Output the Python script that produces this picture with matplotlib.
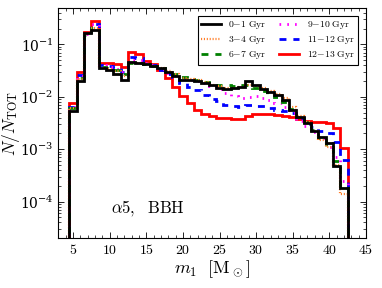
import numpy as np
import matplotlib
matplotlib.use("Agg")
import matplotlib.pyplot as plt
from matplotlib.ticker import FuncFormatter, MultipleLocator, LogLocator

plt.rcParams['mathtext.fontset'] = 'cm'
plt.rcParams['font.family'] = 'serif'
plt.rcParams['font.serif'] = ['DejaVu Serif']

# bin edges of the m1 histogram (1 Msun wide, centred on integers 5..42)
edges = np.arange(4.5, 43.0, 1.0)

# N/N_TOT per bin (bins 5 .. 42)
age_0_1 = [5.3e-3, 0.020, 0.167, 0.19, 0.035, 0.032, 0.027, 0.021, 0.046, 0.045,
           0.043, 0.039, 0.035, 0.030, 0.025, 0.021, 0.021, 0.020, 0.0185, 0.0165,
           0.0149, 0.014, 0.0149, 0.0155, 0.020, 0.0165, 0.0138, 0.0123, 0.011, 0.0085,
           0.0055, 0.0042, 0.0031, 0.0022, 0.0017, 0.0013, 4.8e-4, 1.8e-4]
age_3_4 = [6.0e-3, 0.022, 0.155, 0.21, 0.036, 0.034, 0.031, 0.025, 0.045, 0.045,
           0.043, 0.039, 0.035, 0.031, 0.027, 0.023, 0.022, 0.021, 0.019, 0.017,
           0.016, 0.015, 0.015, 0.0155, 0.0165, 0.016, 0.0145, 0.013, 0.0115, 0.0095,
           0.0065, 0.0043, 0.0033, 0.0022, 0.0015, 0.0011, 5.0e-4, 1.4e-4]
age_6_7 = [6.0e-3, 0.023, 0.15, 0.21, 0.037, 0.035, 0.032, 0.027, 0.044, 0.045,
           0.043, 0.039, 0.035, 0.031, 0.027, 0.024, 0.022, 0.021, 0.019, 0.018,
           0.017, 0.0165, 0.016, 0.017, 0.017, 0.015, 0.013, 0.0115, 0.0097, 0.0080,
           0.0058, 0.0042, 0.0033, 0.0023, 0.0016, 0.0011, 6.0e-4, 1.8e-4]
age_9_10 = [6.5e-3, 0.025, 0.16, 0.24, 0.040, 0.037, 0.034, 0.030, 0.050, 0.050,
            0.044, 0.040, 0.034, 0.029, 0.025, 0.022, 0.021, 0.020, 0.018, 0.016,
            0.014, 0.012, 0.0105, 0.0095, 0.010, 0.0105, 0.0095, 0.0085, 0.0075, 0.0065,
            0.0048, 0.0035, 0.0028, 0.0021, 0.0016, 0.0011, 7.0e-4, 2.5e-4]
age_11_12 = [6.5e-3, 0.026, 0.17, 0.25, 0.040, 0.038, 0.035, 0.030, 0.057, 0.055,
             0.045, 0.040, 0.033, 0.027, 0.024, 0.018, 0.0155, 0.0134, 0.011, 0.0091,
             0.0083, 0.0071, 0.0066, 0.0064, 0.0071, 0.0068, 0.0066, 0.0062, 0.0057, 0.0054,
             0.0049, 0.0040, 0.0030, 0.0026, 0.0022, 0.0020, 0.0014, 6.3e-4]
age_12_13 = [7.7e-3, 0.030, 0.175, 0.28, 0.045, 0.045, 0.042, 0.037, 0.072, 0.066,
             0.048, 0.042, 0.032, 0.023, 0.0155, 0.0103, 0.0077, 0.0057, 0.0046, 0.0043,
             0.0040, 0.0039, 0.0038, 0.0038, 0.0043, 0.0046, 0.0046, 0.0047, 0.0045, 0.0043,
             0.0042, 0.0037, 0.0034, 0.0033, 0.0033, 0.0031, 0.0025, 1.07e-3]

labels = [r'$0{-}1\ \mathrm{Gyr}$', r'$3{-}4\ \mathrm{Gyr}$', r'$6{-}7\ \mathrm{Gyr}$',
          r'$9{-}10\ \mathrm{Gyr}$', r'$11{-}12\ \mathrm{Gyr}$', r'$12{-}13\ \mathrm{Gyr}$']

fig = plt.figure(figsize=(3.82, 2.88), dpi=100)
ax = fig.add_axes([0.153, 0.173, 0.805, 0.80])

base = 1e-7
ax.stairs(age_12_13, edges, baseline=base, color='red', lw=2.0, zorder=2, label=labels[5])
ax.stairs(age_11_12, edges, baseline=base, color='blue', lw=2.0, ls=(0, (2.5, 2.5)), zorder=3, label=labels[4])
ax.stairs(age_9_10, edges, baseline=base, color='magenta', lw=2.0, ls=(0, (0.6, 2.2)), zorder=4, label=labels[3])
ax.stairs(age_6_7, edges, baseline=base, color='green', lw=2.0, ls=(0, (2.5, 2.5)), zorder=5, label=labels[2])
ax.stairs(age_3_4, edges, baseline=base, color='#ff7f2a', lw=1.6, ls=(0, (0.5, 0.8)), zorder=6, label=labels[1])
ax.stairs(age_0_1, edges, baseline=base, color='black', lw=2.0, zorder=7, label=labels[0])

ax.set_yscale('log')
ax.set_xlim(3, 45)
ax.set_ylim(2e-5, 0.5)

ax.xaxis.set_major_locator(MultipleLocator(5))
ax.xaxis.set_minor_locator(MultipleLocator(1))
ax.xaxis.set_major_formatter(FuncFormatter(lambda v, p: r'$%g$' % v))
ax.yaxis.set_major_locator(LogLocator(base=10, numticks=10))
ax.yaxis.set_minor_locator(LogLocator(base=10, subs=np.arange(2, 10), numticks=10))
ax.tick_params(which='both', direction='in', top=True, right=True, labelsize=10)
ax.tick_params(which='major', length=4, width=0.6)
ax.tick_params(which='minor', length=2, width=0.5)
for s in ax.spines.values():
    s.set_linewidth(0.8)

ax.set_xlabel(r'$m_1\ \ [\mathrm{M}_\odot]$', fontsize=13, labelpad=1)
ax.set_ylabel(r'$N/N_{\mathrm{TOT}}$', fontsize=12.5)
ax.yaxis.set_label_coords(-0.12, 0.5)

ax.text(0.17, 0.11, r'$\alpha5,\ \ \mathrm{BBH}$', transform=ax.transAxes, fontsize=12)

h, l = ax.get_legend_handles_labels()
order = [5, 4, 3, 2, 1, 0]
leg = ax.legend([h[i] for i in order], [l[i] for i in order], ncol=2, fontsize=7,
                loc='upper right', bbox_to_anchor=(0.99, 0.985), fancybox=False,
                edgecolor='black', framealpha=1, handlelength=2.0, columnspacing=1.3,
                borderpad=0.35, labelspacing=0.3, handletextpad=0.8)
leg.get_frame().set_linewidth(0.8)

fig.savefig('out.png', dpi=100)
